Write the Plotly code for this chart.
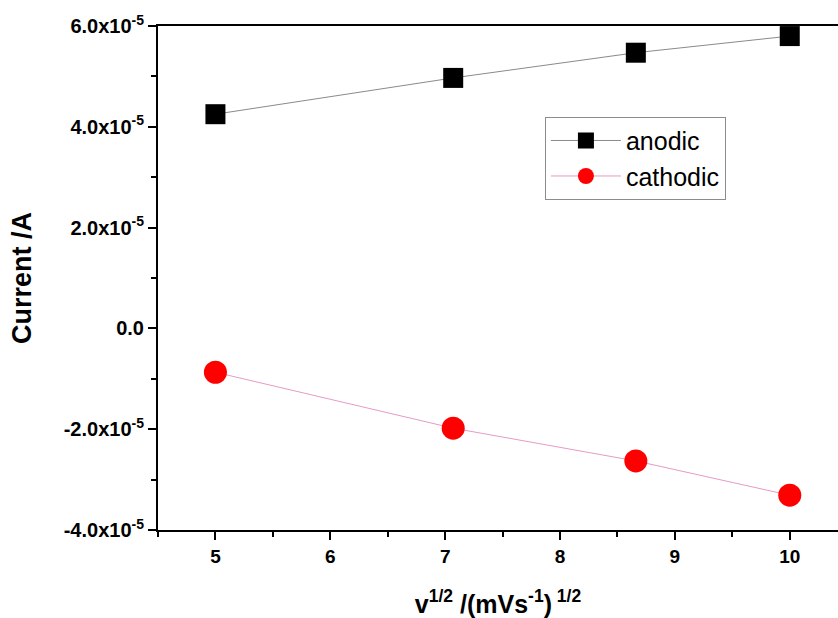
import plotly.graph_objects as go

x_vals = [5.0, 7.07, 8.66, 10.0]
anodic = [4.25e-5, 4.97e-5, 5.47e-5, 5.80e-5]
cathodic = [-0.87e-5, -1.98e-5, -2.63e-5, -3.31e-5]

y_tickvals = [-4e-5, -2e-5, 0, 2e-5, 4e-5, 6e-5]
y_ticktext = ["-4.0x10<sup>-5</sup>", "-2.0x10<sup>-5</sup>", "0.0",
              "2.0x10<sup>-5</sup>", "4.0x10<sup>-5</sup>", "6.0x10<sup>-5</sup>"]
x_tickvals = [5, 6, 7, 8, 9, 10]
x_ticktext = ["5", "6", "7", "8", "9", "10"]

fig = go.Figure()
fig.add_trace(go.Scatter(
    x=x_vals, y=anodic, name="anodic", mode="lines+markers",
    line=dict(color="#8a8a8a", width=1),
    marker=dict(symbol="square", size=20, color="black"),
))
fig.add_trace(go.Scatter(
    x=x_vals, y=cathodic, name="cathodic", mode="lines+markers",
    line=dict(color="#e79ac6", width=1),
    marker=dict(symbol="circle", size=23, color="#ff0000"),
))

font_family = "Liberation Sans, Arial, sans-serif"
fig.update_layout(
    width=838, height=618,
    margin=dict(l=158, r=0, t=26, b=88),
    plot_bgcolor="white", paper_bgcolor="white",
    font=dict(family=font_family, color="black"),
    showlegend=True,
    legend=dict(
        x=0.569, y=0.82, xanchor="left", yanchor="top",
        bgcolor="white", bordercolor="#8c8c8c", borderwidth=1,
        font=dict(size=25, family=font_family, color="black"),
        itemsizing="trace", itemwidth=70, tracegroupgap=0,
    ),
)
fig.update_xaxes(
    range=[4.5, 10.42], showgrid=False, zeroline=False,
    showline=True, linecolor="black", linewidth=2, mirror=True,
    ticks="outside", ticklen=8, tickwidth=2, tickcolor="black",
    tickvals=x_tickvals, ticktext=x_ticktext,
    tickfont=dict(size=19, family=font_family, weight="bold"),
    minor=dict(ticks="outside", ticklen=5, tickwidth=2, tickcolor="black", dtick=0.5, tick0=4.5, showgrid=False),
    title=dict(text="v<sup>1/2</sup> /(mVs<sup>-1</sup>)<sup> 1/2</sup>",
               font=dict(size=25, family=font_family, weight="bold"), standoff=30),
)
fig.update_yaxes(
    range=[-4e-5, 6e-5], showgrid=False, zeroline=False,
    showline=True, linecolor="black", linewidth=2, mirror=False,
    ticks="outside", ticklen=8, tickwidth=2, tickcolor="black",
    tickvals=y_tickvals, ticktext=y_ticktext,
    tickfont=dict(size=20, family=font_family, weight="bold"),
    minor=dict(ticks="outside", ticklen=5, tickwidth=2, tickcolor="black", dtick=1e-5, tick0=-4e-5, showgrid=False),
    title=dict(text="Current /A", font=dict(size=27, family=font_family, weight="bold"), standoff=24),
)

fig.write_html(
    "out.html",
    config={"displayModeBar": False},
    post_script="document.body.style.margin='0';document.body.style.overflow='hidden';",
)
